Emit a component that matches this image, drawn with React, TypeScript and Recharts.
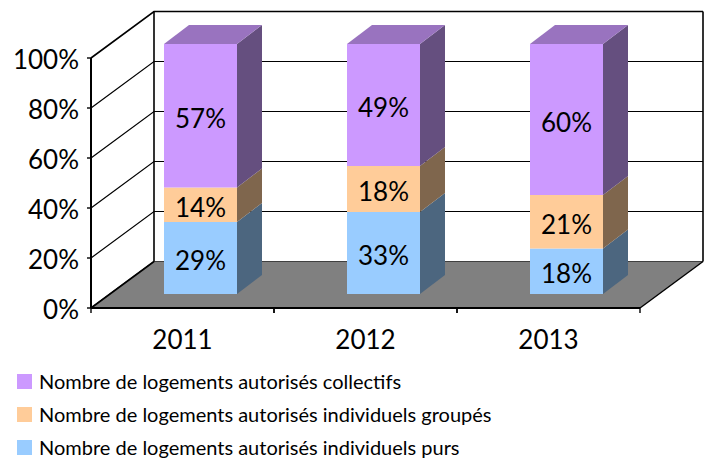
import { BarChart, Bar, XAxis, YAxis, CartesianGrid, Legend, LabelList, ReferenceArea } from "recharts"

const years = ["2011", "2012", "2013"]
const purs = [28.8, 32.8, 18.2]
const groupes = [13.8, 18.4, 21.4]
const collectifs = [57.4, 48.8, 60.4]
const yTicks = [0, 20, 40, 60, 80, 100]

const data = years.map((year, i) => ({
    year,
    purs: purs[i],
    groupes: groupes[i],
    collectifs: collectifs[i],
}))

const legendItems = [
    { label: "Nombre de logements autorisés collectifs", color: "#CC99FF" },
    { label: "Nombre de logements autorisés individuels groupés", color: "#FFCC99" },
    { label: "Nombre de logements autorisés individuels purs", color: "#99CCFF" },
]

const FONT = "Lato, Carlito, sans-serif"

// fake 3d: how far the back wall and the bars are pushed
const WALL_DX = 63
const WALL_DY = 46.5
const BAR_DX = 18
const BAR_DY = 14
const SIDE_DX = 25
const SIDE_DY = 19

function GridLine(props: any) {
    const { x1, x2, y1 } = props
    const points = `${x1},${y1} ${x1 + WALL_DX},${y1 - WALL_DY} ${x2 + WALL_DX},${y1 - WALL_DY}`
    return <polyline points={points} fill="none" stroke="#000" strokeWidth={y1 < 60 ? 1.6 : 1.2} />
}

function Floor(props: any) {
    const { x, y, width, height } = props
    const bottom = y + height
    const right = x + width
    return (
        <g>
            <polygon
                points={`${x},${bottom} ${x + WALL_DX},${bottom - WALL_DY} ${right + WALL_DX},${bottom - WALL_DY} ${right},${bottom}`}
                fill="#808080"
            />
            <line x1={x + WALL_DX} x2={x + WALL_DX} y1={y - WALL_DY} y2={bottom - WALL_DY} stroke="#000" strokeWidth={1.6} />
            <line x1={right + WALL_DX} x2={right + WALL_DX} y1={y - WALL_DY} y2={bottom - WALL_DY} stroke="#000" strokeWidth={1.6} />
            <line x1={x} x2={x + WALL_DX} y1={bottom} y2={bottom - WALL_DY} stroke="#000" strokeWidth={1.6} />
            <line x1={right} x2={right + WALL_DX} y1={bottom} y2={bottom - WALL_DY} stroke="#000" strokeWidth={1.4} />
        </g>
    )
}

function Box3D(props: any) {
    const { x, y, width, height, fill, sideFill, topFill } = props
    const left = x + BAR_DX
    const top = y - BAR_DY
    const right = left + width
    const bottom = top + height
    return (
        <g>
            <polygon
                points={`${right},${top} ${right + SIDE_DX},${top - SIDE_DY} ${right + SIDE_DX},${bottom - SIDE_DY} ${right},${bottom}`}
                fill={sideFill}
            />
            {topFill && (
                <polygon
                    points={`${left},${top} ${left + SIDE_DX},${top - SIDE_DY} ${right + SIDE_DX},${top - SIDE_DY} ${right},${top}`}
                    fill={topFill}
                />
            )}
            <rect x={left} y={top} width={width} height={height} fill={fill} />
        </g>
    )
}

function BoxLabel(props: any) {
    const { x, y, width, height, value } = props
    return (
        <text
            x={x + BAR_DX + width / 2}
            y={y - BAR_DY + height / 2 + 2}
            textAnchor="middle"
            dominantBaseline="central"
            fontFamily={FONT}
            fontSize={26}
            fill="#000"
        >
            {Math.round(value)}%
        </text>
    )
}

function YearTick(props: any) {
    const { x, y, payload } = props
    const half = 91.5
    return (
        <g>
            <line x1={x - half} x2={x - half} y1={y - 8} y2={y - 3} stroke="#000" strokeWidth={1.4} />
            <line x1={x + half} x2={x + half} y1={y - 8} y2={y - 3} stroke="#000" strokeWidth={1.4} />
            <text x={x} y={y + 33} textAnchor="middle" fontFamily={FONT} fontSize={26} fill="#000">
                {payload.value}
            </text>
        </g>
    )
}

function LegendBox() {
    return (
        <div style={{ fontFamily: FONT, fontSize: 20, color: "#000" }}>
            {legendItems.map((item, i) => (
                <div key={i} style={{ display: "flex", alignItems: "center", height: 33, whiteSpace: "nowrap" }}>
                    <span style={{ width: 15, height: 15, background: item.color, marginRight: 7 }} />
                    {item.label}
                </div>
            ))}
        </div>
    )
}

export default function App() {
    return (
        <div style={{ position: "absolute", left: 0, top: 0 }}>
            <BarChart
                width={707}
                height={459}
                data={data}
                margin={{ top: 58, right: 67, bottom: 121, left: 0 }}
                barSize={73}
            >
                <ReferenceArea y1={0} y2={100} shape={<Floor />} ifOverflow="visible" />
                <CartesianGrid vertical={false} horizontal={<GridLine />} stroke="#000" />
                <XAxis
                    dataKey="year"
                    height={30}
                    tick={<YearTick />}
                    tickLine={false}
                    axisLine={{ stroke: "#000", strokeWidth: 2 }}
                    interval={0}
                />
                <YAxis
                    width={91}
                    domain={[0, 100]}
                    ticks={yTicks}
                    tickFormatter={(v: number) => `${v}%`}
                    tick={{ fontFamily: FONT, fontSize: 26, fill: "#000", dy: 2 }}
                    tickLine={{ stroke: "#000", strokeWidth: 1.4 }}
                    tickSize={4}
                    tickMargin={8}
                    axisLine={{ stroke: "#000", strokeWidth: 2 }}
                />
                <Legend
                    layout="horizontal"
                    verticalAlign="middle"
                    align="center"
                    content={<LegendBox />}
                    wrapperStyle={{ left: 17, top: 364.5, width: 600, bottom: "auto" }}
                />
                <Bar
                    dataKey="purs"
                    stackId="a"
                    fill="#99CCFF"
                    isAnimationActive={false}
                    shape={<Box3D sideFill="#4C667F" />}
                >
                    <LabelList dataKey="purs" content={<BoxLabel />} />
                </Bar>
                <Bar
                    dataKey="groupes"
                    stackId="a"
                    fill="#FFCC99"
                    isAnimationActive={false}
                    shape={<Box3D sideFill="#7F664D" />}
                >
                    <LabelList dataKey="groupes" content={<BoxLabel />} />
                </Bar>
                <Bar
                    dataKey="collectifs"
                    stackId="a"
                    fill="#CC99FF"
                    isAnimationActive={false}
                    shape={<Box3D sideFill="#654F7F" topFill="#9973BF" />}
                >
                    <LabelList dataKey="collectifs" content={<BoxLabel />} />
                </Bar>
            </BarChart>
        </div>
    )
}
